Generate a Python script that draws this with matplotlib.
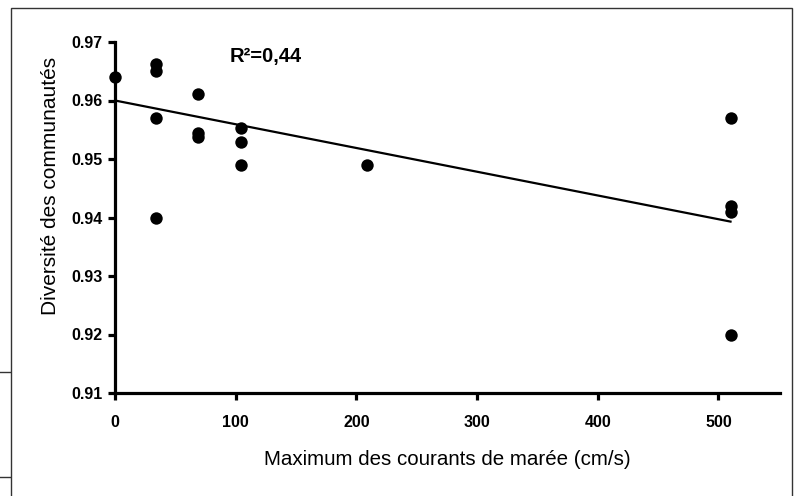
import matplotlib
matplotlib.use("Agg")
import matplotlib.pyplot as plt
from matplotlib.patches import Rectangle
from matplotlib.lines import Line2D

plt.rcParams['font.family'] = ['Liberation Sans', 'DejaVu Sans']

# Data
courant = [0, 34, 34, 34, 34, 69, 69, 69, 104, 104, 104, 209, 510, 510, 510, 510]
diversite = [0.964, 0.9662, 0.965, 0.957, 0.940, 0.9611, 0.9544, 0.9538,
             0.9553, 0.9529, 0.949, 0.949, 0.957, 0.942, 0.941, 0.920]
fit_x = [0, 510]
fit_y = [0.9600, 0.9393]
xticks = [0, 100, 200, 300, 400, 500]
yticks = [0.91, 0.92, 0.93, 0.94, 0.95, 0.96, 0.97]
r2_text = "R²=0,44"

W, H = 799, 496
fig = plt.figure(figsize=(W / 100, H / 100), dpi=100)
ax = fig.add_axes([115 / W, 1 - 393 / H, (780 - 115) / W, (393 - 42) / H])

ax.scatter(courant, diversite, s=80, color='black', zorder=3, linewidths=0,
           clip_on=False)
ax.plot(fit_x, fit_y, color='black', lw=1.6, zorder=2)

ax.set_xlim(0, 551)
ax.set_ylim(0.91, 0.97)
ax.set_xticks(xticks)
ax.set_yticks(yticks)
ax.set_xticklabels([str(v) for v in xticks], fontweight='bold', fontsize=11.5)
ax.set_yticklabels([f"{v:.2f}" for v in yticks], fontweight='bold', fontsize=11.5)
for s in ['top', 'right']:
    ax.spines[s].set_visible(False)
for s in ['left', 'bottom']:
    ax.spines[s].set_linewidth(2.3)
ax.tick_params(direction='out', length=5, width=2.3)
ax.tick_params(axis='x', pad=11)
ax.tick_params(axis='y', pad=4)

ax.set_xlabel("Maximum des courants de marée (cm/s)", fontsize=14.8, labelpad=14)
ax.set_ylabel("Diversité des communautés", fontsize=15)
ax.yaxis.set_label_coords(-0.082, 0.59)

ax.text(0.173, 0.96, r2_text, transform=ax.transAxes, fontsize=14.5,
        fontweight='bold', va='center', ha='left')

# outer frame
fig.patches.append(Rectangle((11 / W, -0.1), (792 - 11) / W, 1.1 - 8 / H,
                             transform=fig.transFigure, fill=False,
                             edgecolor='#333333', lw=1.0))
for yy in [372, 477]:
    fig.lines.append(Line2D([0, 10 / W], [1 - yy / H, 1 - yy / H],
                            transform=fig.transFigure, color='#333333', lw=1.0))

fig.savefig("out.png", dpi=100)
